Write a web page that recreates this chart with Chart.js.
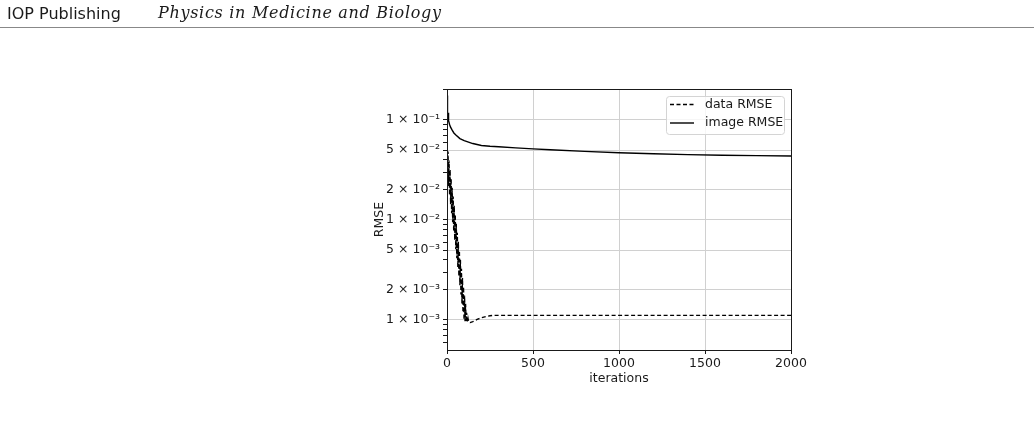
<!DOCTYPE html>
<html>
<head>
<meta charset="utf-8">
<script src="https://cdn.jsdelivr.net/npm/chart.js@4.4.1/dist/chart.umd.min.js"></script>
<style>
  body { margin: 0; background: #fff; }
  #wrap { position: relative; width: 1034px; height: 426px; overflow: hidden; }
  #journal { position: absolute; left: 7px; top: 4px; font: 16px "DejaVu Sans"; color: #1a1a1a; white-space: nowrap; }
  #title { position: absolute; left: 158px; top: 3px; font: italic 16px "DejaVu Serif"; letter-spacing: 0.7px; color: #1a1a1a; white-space: nowrap; }
  #rule { position: absolute; left: 0; top: 27px; width: 1034px; height: 1px; background: #888; }
  canvas { position: absolute; left: 0; top: 0; }
</style>
</head>
<body>
<div id="wrap">
  <canvas id="chart" width="1034" height="426"></canvas>
  <div id="journal">IOP Publishing</div>
  <div id="title">Physics in Medicine and Biology</div>
  <div id="rule"></div>
</div>
<script>
// data RMSE: oscillates hard while it drops, then settles
const dataIters = [0, 3, 6, 9, 12, 15, 18, 21, 24, 27, 30, 33, 36, 39, 42, 45, 48, 51, 54, 57,
  60, 63, 66, 69, 72, 75, 78, 81, 84, 87, 90, 93, 96, 99, 102, 105, 108, 111, 114, 118,
  122, 126, 135, 150, 175, 200, 225, 250, 275, 300, 500, 1000, 1500, 2000];
const dataRmse = [0.0593, 0.0268, 0.0482, 0.0218, 0.0392, 0.0177, 0.0318, 0.01436, 0.0258, 0.01167,
  0.021, 0.00948, 0.0171, 0.00771, 0.01387, 0.00627, 0.01127, 0.00508, 0.00914, 0.00413,
  0.00743, 0.00336, 0.00604, 0.00273, 0.00491, 0.00222, 0.00399, 0.0018, 0.00324, 0.00146,
  0.00263, 0.00119, 0.00214, 0.001, 0.00174, 0.00097, 0.00145, 0.00096, 0.00118, 0.00096,
  0.00104, 0.00095, 0.00094, 0.00096, 0.00101, 0.00105, 0.00108, 0.0011, 0.00111, 0.00111,
  0.00111, 0.00111, 0.00111, 0.00111];

// image RMSE
const imageIters = [0, 1, 2, 3, 4, 5, 6, 8, 10, 15, 20, 30, 40, 50, 75, 100, 150, 200, 250, 300,
  400, 500, 600, 800, 1000, 1200, 1400, 1600, 1800, 2000];
const imageRmse = [0.175, 0.13, 0.155, 0.118, 0.135, 0.108, 0.118, 0.102, 0.098, 0.09, 0.085, 0.079,
  0.074, 0.071, 0.065, 0.062, 0.058, 0.0555, 0.0545, 0.0538, 0.0525, 0.0513, 0.0503, 0.0485,
  0.047, 0.0458, 0.0449, 0.0443, 0.0439, 0.0436];

const xTicks = [0, 500, 1000, 1500, 2000];
const yTicks = [1e-3, 2e-3, 5e-3, 1e-2, 2e-2, 5e-2, 1e-1];
const yTickLabels = ['1 × 10⁻³', '2 × 10⁻³', '5 × 10⁻³', '1 × 10⁻²', '2 × 10⁻²', '5 × 10⁻²', '1 × 10⁻¹'];
const yMinorTicks = [6e-4, 7e-4, 8e-4, 9e-4, 3e-3, 4e-3, 6e-3, 7e-3, 8e-3, 9e-3,
  3e-2, 4e-2, 6e-2, 7e-2, 8e-2, 9e-2, 2e-1];

const FONT = { family: 'DejaVu Sans', size: 12.5 };
const INK = '#1a1a1a';

function points(xs, ys) {
  return xs.map((x, i) => ({ x: x, y: ys[i] }));
}

function align(v) {
  return Math.round(v - 0.5) + 0.5;
}

// box all the way round the plot, like the matplotlib spines
const frame = {
  id: 'frame',
  afterDatasetsDraw(chart) {
    const { ctx, chartArea: a } = chart;
    ctx.save();
    ctx.strokeStyle = INK;
    ctx.lineWidth = 1;
    ctx.strokeRect(align(a.left), align(a.top), Math.round(a.right - a.left), Math.round(a.bottom - a.top));
    ctx.restore();
  }
};

// legend sits inside the upper right corner
const insideLegend = {
  id: 'insideLegend',
  afterDraw(chart) {
    const { ctx, chartArea } = chart;
    const w = 118, h = 38;
    const x0 = Math.round(chartArea.right - 7 - w);
    const y0 = Math.round(chartArea.top + 7);
    ctx.save();
    ctx.fillStyle = 'rgba(255,255,255,0.8)';
    ctx.strokeStyle = '#d4d4d4';
    ctx.lineWidth = 1;
    ctx.beginPath();
    ctx.roundRect(x0 + 0.5, y0 + 0.5, w, h, 3);
    ctx.fill();
    ctx.stroke();
    chart.data.datasets.forEach((ds, i) => {
      const y = y0 + 8.5 + i * 18.5;
      ctx.strokeStyle = ds.borderColor;
      ctx.lineWidth = ds.borderWidth;
      ctx.setLineDash(ds.borderDash || []);
      ctx.beginPath();
      ctx.moveTo(x0 + 4, y);
      ctx.lineTo(x0 + 28, y);
      ctx.stroke();
      ctx.setLineDash([]);
      ctx.fillStyle = INK;
      ctx.font = FONT.size + 'px "' + FONT.family + '"';
      ctx.textBaseline = 'middle';
      ctx.fillText(ds.label, x0 + 39, y);
    });
    ctx.restore();
  }
};

new Chart(document.getElementById('chart'), {
  type: 'line',
  data: {
    datasets: [
      {
        label: 'data RMSE',
        data: points(dataIters, dataRmse),
        borderColor: '#000',
        borderWidth: 1.4,
        borderDash: [4, 2.5],
        pointRadius: 0,
        tension: 0
      },
      {
        label: 'image RMSE',
        data: points(imageIters, imageRmse),
        borderColor: '#000',
        borderWidth: 1.4,
        pointRadius: 0,
        tension: 0
      }
    ]
  },
  options: {
    responsive: false,
    animation: false,
    layout: { padding: { left: 372, top: 89, right: 243, bottom: 40 } },
    scales: {
      x: {
        type: 'linear',
        min: 0,
        max: 2000,
        afterBuildTicks: s => { s.ticks = xTicks.map(v => ({ value: v })); },
        afterFit: s => { s.height = 36; },
        ticks: { font: FONT, color: INK, padding: 2, maxRotation: 0, autoSkip: false, callback: v => String(v) },
        grid: { color: '#d0d0d0', lineWidth: 1, tickLength: 4, tickColor: INK },
        border: { display: false },
        title: { display: true, text: 'iterations', font: FONT, color: INK, padding: 0 }
      },
      y: {
        type: 'logarithmic',
        min: 5e-4,
        max: 0.2037,
        afterBuildTicks: s => {
          s.ticks = yTicks.map(v => ({ value: v, major: true }))
            .concat(yMinorTicks.map(v => ({ value: v, major: false })));
        },
        afterFit: s => { s.width = 75; },
        ticks: {
          font: FONT,
          color: INK,
          padding: 3,
          autoSkip: false,
          callback: v => {
            const k = yTicks.indexOf(v);
            return k >= 0 ? yTickLabels[k] : '';
          }
        },
        grid: {
          color: c => (c.tick && c.tick.major ? '#d0d0d0' : 'rgba(0,0,0,0)'),
          lineWidth: 1,
          tickLength: 4,
          tickColor: INK
        },
        border: { display: false },
        title: { display: true, text: 'RMSE', font: FONT, color: INK, padding: 0 }
      }
    },
    plugins: {
      legend: { display: false },
      tooltip: { enabled: false }
    }
  },
  plugins: [frame, insideLegend]
});
</script>
</body>
</html>
